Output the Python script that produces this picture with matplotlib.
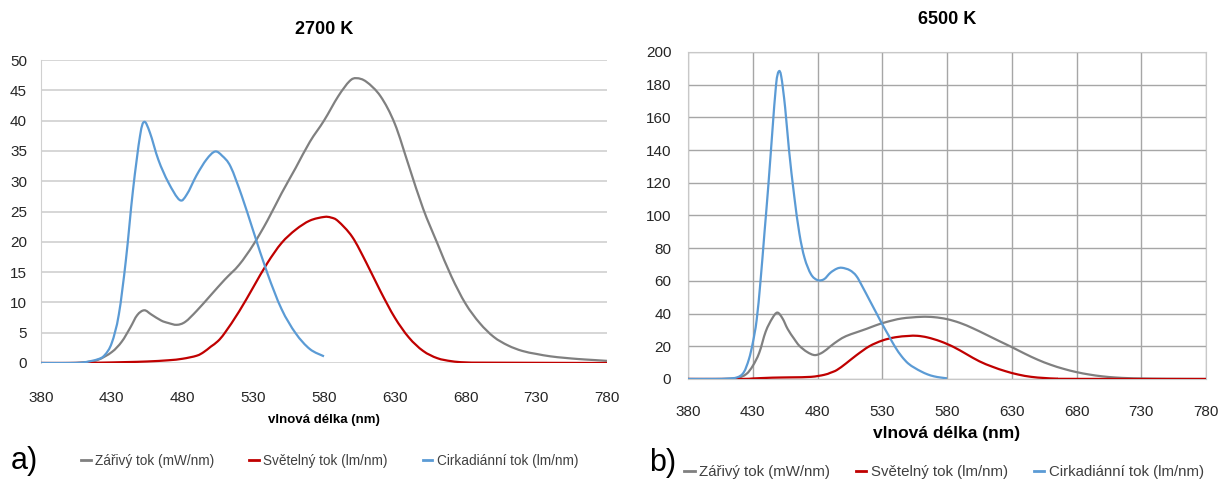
import matplotlib
matplotlib.use("Agg")
import matplotlib.pyplot as plt
from matplotlib.path import Path
from matplotlib.patches import PathPatch
from matplotlib.lines import Line2D

plt.rcParams["font.family"] = ["Liberation Sans", "DejaVu Sans"]

GRAY = "#808080"
RED = "#c00000"
BLUE = "#5b9bd5"

LABELS = ["Zářivý tok (mW/nm)", "Světelný tok (lm/nm)", "Cirkadiánní tok (lm/nm)"]
XTICKS = [380, 430, 480, 530, 580, 630, 680, 730, 780]

# 2700 K
wl_rad_a = [380, 390, 400, 410, 420, 430, 437, 443, 448, 453, 458, 465, 470, 476, 482, 490,
            500, 510, 520, 530, 540, 550, 560, 570, 580, 590, 598, 603, 610, 620, 630, 640,
            650, 660, 670, 680, 690, 700, 710, 720, 730, 740, 750, 760, 770, 780]
rad_a = [0, 0, 0, 0.1, 0.5, 1.8, 3.5, 5.8, 7.9, 8.7, 8.0, 7.0, 6.6, 6.3, 6.8, 8.6,
         11.2, 13.8, 16.2, 19.5, 23.5, 28.0, 32.2, 36.5, 40.0, 44.0, 46.5, 47.0, 46.4, 44.0, 39.5, 32.5,
         25.5, 19.8, 14.3, 9.8, 6.6, 4.3, 2.9, 2.0, 1.5, 1.1, 0.85, 0.65, 0.5, 0.35]

wl_lum_a = [380, 400, 420, 440, 455, 470, 480, 490, 495, 500, 505, 510, 520, 530, 540, 550,
            560, 570, 580, 585, 590, 600, 610, 620, 630, 640, 650, 660, 670, 680, 700, 780]
lum_a = [0, 0, 0.05, 0.15, 0.25, 0.45, 0.7, 1.2, 1.8, 2.7, 3.6, 5.0, 8.5, 12.5, 16.5, 19.8,
         22.0, 23.5, 24.1, 24.0, 23.4, 20.8, 16.5, 11.8, 7.5, 4.2, 2.0, 0.8, 0.3, 0.1, 0.05, 0]

wl_circ_a = [380, 400, 410, 420, 425, 430, 435, 440, 445, 450, 453, 457, 463, 470, 478, 483,
             490, 497, 503, 508, 514, 522, 530, 540, 550, 560, 570, 580]
circ_a = [0, 0, 0.1, 0.6, 1.3, 3.3, 8.0, 17.0, 28.5, 37.5, 39.8, 38.0, 33.5, 29.8, 26.9, 27.8,
          31.0, 33.6, 34.9, 34.2, 32.4, 27.5, 21.8, 14.8, 8.9, 4.9, 2.3, 1.1]

# 6500 K
wl_rad_b = [380, 400, 410, 418, 425, 430, 435, 440, 445, 449, 453, 457, 462, 466, 472, 478,
            484, 490, 496, 502, 510, 518, 525, 533, 545, 560, 570, 580, 590, 600, 610, 620,
            630, 640, 650, 660, 670, 680, 690, 700, 710, 720, 730, 750, 780]
rad_b = [0, 0, 0.1, 0.5, 3.0, 8.0, 16.0, 29.0, 37.0, 40.6, 37.0, 30.5, 24.5, 20.3, 16.5, 14.6,
         16.3, 20.0, 23.5, 26.2, 28.5, 30.7, 32.8, 34.8, 37.0, 38.0, 37.8, 36.6, 34.3, 31.0, 27.2, 23.3,
         19.5, 15.5, 11.8, 8.7, 6.2, 4.2, 2.7, 1.6, 0.9, 0.5, 0.3, 0.1, 0]

wl_lum_b = [380, 420, 430, 445, 460, 475, 485, 490, 495, 502, 510, 520, 530, 540, 550, 557,
            565, 575, 585, 595, 605, 615, 625, 635, 645, 655, 665, 680, 780]
lum_b = [0, 0, 0.3, 0.8, 1.0, 1.3, 2.5, 3.8, 5.5, 9.5, 14.5, 20.0, 23.5, 25.5, 26.3, 26.4,
         25.4, 23.0, 19.6, 15.2, 10.8, 7.5, 4.8, 2.7, 1.3, 0.6, 0.2, 0.05, 0]

wl_circ_b = [380, 400, 410, 418, 423, 427, 430, 433, 436, 439, 442, 445, 448, 450, 452, 455,
             458, 462, 466, 470, 475, 480, 485, 490, 495, 499, 505, 510, 515, 520, 525, 530,
             535, 540, 545, 550, 555, 560, 565, 570, 575, 580]
circ_b = [0, 0, 0.2, 1, 4, 12, 22, 36, 60, 89, 118, 150, 180, 188, 185, 166,
          140, 112, 89, 74, 64, 60.5, 61, 65, 67.5, 68, 66.5, 63, 56, 48.5, 41, 33.5,
          26.5, 19.5, 13.8, 9.5, 6.8, 4.6, 2.8, 1.6, 0.9, 0.4]


def smooth_line(ax, xs, ys, color, lw):
    # Catmull-Rom style bezier through the points (like a "smoothed line" chart)
    pts = list(zip(xs, ys))
    verts = [pts[0]]
    codes = [Path.MOVETO]
    n = len(pts)
    for i in range(n - 1):
        p0 = pts[max(i - 1, 0)]
        p1 = pts[i]
        p2 = pts[i + 1]
        p3 = pts[min(i + 2, n - 1)]
        c1 = (p1[0] + (p2[0] - p0[0]) / 6, p1[1] + (p2[1] - p0[1]) / 6)
        c2 = (p2[0] - (p3[0] - p1[0]) / 6, p2[1] - (p3[1] - p1[1]) / 6)
        verts += [c1, c2, p2]
        codes += [Path.CURVE4] * 3
    patch = PathPatch(Path(verts, codes), fill=False, edgecolor=color, lw=lw,
                      joinstyle="round", capstyle="butt", zorder=3)
    ax.add_patch(patch)


lw = 1.6
fig = plt.figure(figsize=(12.31, 4.84), dpi=100)
ax1 = fig.add_axes([0.0333, 0.25, 0.4598, 0.626])
ax2 = fig.add_axes([0.5589, 0.217, 0.4208, 0.6756])

for ax, series in (
    (ax1, [(wl_rad_a, rad_a, GRAY), (wl_lum_a, lum_a, RED), (wl_circ_a, circ_a, BLUE)]),
    (ax2, [(wl_rad_b, rad_b, GRAY), (wl_lum_b, lum_b, RED), (wl_circ_b, circ_b, BLUE)]),
):
    for x, y, c in series:
        smooth_line(ax, x, y, c, lw)
    ax.set_xlim(380, 780)
    ax.set_xticks(XTICKS)
    ax.tick_params(length=0, labelsize=11, colors="#262626")

# left panel: horizontal grid only
ax1.set_ylim(0, 50)
ax1.set_yticks(range(0, 51, 5))
ax1.grid(axis="y", color="#d0d0d0", lw=1.2)
for s in ["top", "right", "bottom"]:
    ax1.spines[s].set_visible(False)
ax1.spines["left"].set_color("#d0d0d0")
ax1.tick_params(axis="y", pad=10)
ax1.tick_params(axis="x", pad=20)
ax1.set_title("2700 K", fontsize=13, fontweight="bold", pad=19)
ax1.set_xlabel("vlnová délka (nm)", fontsize=9.5, fontweight="bold", labelpad=7)

# right panel: full grid with frame
ax2.set_ylim(0, 200)
ax2.set_yticks(range(0, 201, 20))
ax2.grid(axis="both", color="#a6a6a6", lw=1.0)
for s in ax2.spines.values():
    s.set_color("#c8c8c8")
ax2.tick_params(axis="y", pad=12)
ax2.tick_params(axis="x", pad=19)
ax2.set_title("6500 K", fontsize=13, fontweight="bold", pad=20)
ax2.set_xlabel("vlnová délka (nm)", fontsize=12.5, fontweight="bold", labelpad=5)

fig.text(0.009, 0.048, "a)", fontsize=22, va="center", ha="left")
fig.text(0.527, 0.043, "b)", fontsize=22, va="center", ha="left")

handles = [Line2D([], [], color=c, lw=2) for c in (GRAY, RED, BLUE)]
fig.legend(handles, LABELS, loc="center left", bbox_to_anchor=(0.056, 0.048), ncol=3,
           frameon=False, fontsize=9.8, handlelength=0.7, handletextpad=0.3,
           columnspacing=2.6, labelcolor="#404040")
fig.legend(handles, LABELS, loc="center left", bbox_to_anchor=(0.545, 0.025), ncol=3,
           frameon=False, fontsize=10.8, handlelength=0.7, handletextpad=0.3,
           columnspacing=1.7, labelcolor="#404040")

fig.savefig("out.png", dpi=100)
